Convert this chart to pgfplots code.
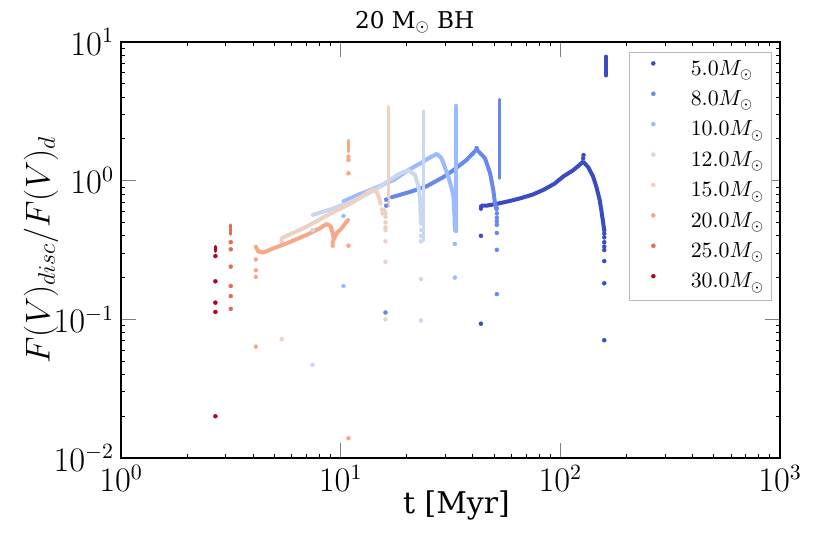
\documentclass[border=0pt]{standalone}
\usepackage{pgfplots}
\pgfplotsset{compat=1.18}
\usepackage{fontspec}
\usepackage{amsmath}
\newfontfamily\djserif{DejaVu Serif}
\definecolor{c5}{HTML}{3B4CC0}
\definecolor{c8}{HTML}{6788EE}
\definecolor{c10}{HTML}{9ABBFF}
\definecolor{c12}{HTML}{C9D7F0}
\definecolor{c15}{HTML}{EDD1C2}
\definecolor{c20}{HTML}{F7A889}
\definecolor{c25}{HTML}{E36C55}
\definecolor{c30}{HTML}{B40426}
\pgfplotsset{
  dots/.style={only marks, mark=*, mark size=1bp, mark options={line width=0.2bp}},
  curve/.style={no marks, line width=2bp, line cap=round, line join=round, forget plot},
  bar/.style={no marks, line width=1.6bp, line cap=round, forget plot},
}
\begin{document}
\begin{tikzpicture}
\useasboundingbox (-60.5bp,-48bp) rectangle (354.5bp,229bp);
\begin{axis}[
  at={(0,0)}, anchor=south west,
  scale only axis, width=329.5bp, height=208bp,
  xmode=log, ymode=log,
  xmin=1, xmax=1000, ymin=0.01, ymax=10,
  xtick={1,10,100,1000}, ytick={0.01,0.1,1,10},
  axis line style={line width=1bp},
  tick align=inside, xtick pos=both, ytick pos=both,
  major tick length=7.5bp, minor tick length=2.2bp,
  major tick style={gray, line width=0.6bp},
  minor tick style={black, line width=0.5bp},
  tick label style={font=\fontsize{16}{19}\selectfont},
  xlabel={\djserif t [Myr]},
  xlabel style={at={(axis description cs:0.509,0)}, anchor=base, yshift=-27.5bp, font=\fontsize{15}{18}\selectfont},
  ylabel={$F(V)_{disc}/F(V)_d$},
  ylabel style={at={(axis description cs:-0.1214,0.5)}, anchor=center, font=\fontsize{16.5}{19}\selectfont},
  legend style={at={(axis description cs:1,1)}, anchor=north east, xshift=-4.15bp, yshift=-4.85bp,
    draw=gray!55, line width=0.5bp, font=\fontsize{10.5}{12}\selectfont,
    inner xsep=1.5bp, inner ysep=1.4bp,
    nodes={text height=7.5bp, text depth=2.5bp, inner ysep=2.6bp}},
  legend cell align=left,
  legend image code/.code={\path (-10.4bp,1bp) (16.5bp,5bp); \draw[#1] plot coordinates {(0bp,3.4bp)};},
]
% 5 Msun
\addplot[dots, c5] coordinates {(43.5,0.40)(43.5,0.093)(127,1.45)(127.5,1.53)(158.5,0.44)(158.5,0.415)(158.5,0.39)(158.5,0.36)(158.5,0.335)(158.5,0.316)(158.5,0.263)(158.5,0.182)(158.5,0.0707)};
\addlegendentry{$5.0M_\odot$}
\addplot[curve, c5] coordinates {(43.5,0.625)(43.6,0.66)(46,0.66)(51.3,0.68)(58,0.71)(65.5,0.745)(75,0.795)(83.6,0.857)(94,0.95)(103,1.07)(114.5,1.19)(121,1.28)(127,1.37)(134,1.25)(141,1.07)(146,0.9)(151,0.726)(154,0.6)(156.8,0.493)(158,0.45)};
\addplot[bar, c5] coordinates {(161.5,5.7)(161.5,7.9)};
% 8 Msun
\addplot[dots, c8] coordinates {(16.1,0.73)(16.1,0.66)(16.0,0.112)(51.4,0.63)(51.4,0.58)(51.4,0.54)(51.4,0.51)(51.4,0.48)(51.4,0.42)(51.4,0.317)(51.4,0.152)(41.6,1.72)};
\addlegendentry{$8.0M_\odot$}
\addplot[curve, c8] coordinates {(17.1,0.76)(20.7,0.83)(24.6,0.91)(29.3,1.06)(32.6,1.19)(37.4,1.41)(41.6,1.68)(45.4,1.45)(47.9,1.13)(49.5,0.86)(50.4,0.69)(51.2,0.62)};
\addplot[bar, c8] coordinates {(52.7,1.04)(52.7,3.86)};
% 10 Msun
\addplot[dots, c10] coordinates {(10.3,0.557)(10.3,0.174)(33.1,0.35)(33.1,0.2)};
\addlegendentry{$10.0M_\odot$}
\addplot[curve, c10] coordinates {(10.3,0.71)(12,0.79)(14,0.87)(17.4,1.01)(20.3,1.19)(23,1.33)(25.5,1.47)(27.4,1.56)(28.8,1.45)(30.9,1.07)(32.2,0.85)(32.6,0.77)(33.0,0.55)(33.1,0.44)};
\addplot[bar, c10] coordinates {(33.5,0.43)(33.5,3.5)};
% 12 Msun
\addplot[dots, c12] coordinates {(7.45,0.44)(7.45,0.047)(23.2,0.44)(23.2,0.40)(23.2,0.365)(23.2,0.195)(23.2,0.098)};
\addlegendentry{$12.0M_\odot$}
\addplot[curve, c12] coordinates {(7.45,0.566)(9,0.62)(11,0.70)(13,0.79)(15,0.9)(17,1.03)(18.7,1.13)(20.3,1.19)(21.8,1.10)(22.6,0.91)(23.0,0.73)(23.2,0.49)};
\addplot[bar, c12] coordinates {(23.8,0.37)(23.8,3.18)};
% 15 Msun
\addplot[dots, c15] coordinates {(5.39,0.072)(15.4,0.62)(15.6,0.60)(15.8,0.61)(15.5,0.58)(16,0.58)(16,0.55)(16,0.50)(16,0.46)(16,0.44)(16,0.365)(16,0.26)(16,0.10)};
\addlegendentry{$15.0M_\odot$}
\addplot[curve, c15] coordinates {(5.39,0.36)(5.39,0.385)(7,0.466)(9,0.58)(11,0.68)(12.2,0.75)(13.2,0.82)(14,0.86)(14.6,0.83)(15.0,0.74)(15.2,0.68)};
\addplot[bar, c15] coordinates {(16.5,0.65)(16.5,3.42)};
% 20 Msun
\addplot[dots, c20] coordinates {(4.11,0.27)(4.11,0.226)(4.11,0.202)(4.11,0.0636)(9.2,0.36)(9.2,0.34)(10.85,0.34)(10.85,0.0139)(10.85,1.13)(10.85,1.41)(10.85,1.49)};
\addlegendentry{$20.0M_\odot$}
\addplot[curve, c20] coordinates {(4.11,0.334)(4.22,0.308)(4.44,0.303)(4.94,0.325)(5.67,0.353)(7.0,0.406)(8.05,0.454)(8.63,0.487)(9.0,0.47)(9.2,0.418)(9.3,0.375)(9.6,0.418)(10.1,0.454)(10.65,0.506)(10.8,0.52)};
\addplot[bar, c20] coordinates {(10.85,1.62)(10.85,1.95)};
% 25 Msun
\addplot[dots, c25] coordinates {(3.16,0.36)(3.16,0.32)(3.16,0.24)(3.16,0.174)(3.16,0.147)(3.16,0.119)};
\addlegendentry{$25.0M_\odot$}
\addplot[bar, c25] coordinates {(3.16,0.41)(3.16,0.48)};
% 30 Msun
\addplot[dots, c30] coordinates {(2.69,0.286)(2.69,0.188)(2.69,0.132)(2.69,0.113)(2.69,0.020)};
\addlegendentry{$30.0M_\odot$}
\addplot[bar, c30] coordinates {(2.69,0.31)(2.69,0.335)};
\end{axis}
\node[anchor=base, inner sep=0pt, font=\fontsize{11.6}{14}\selectfont\djserif] at (146.85bp,214.85bp) {20 M$_\odot$ BH};
\end{tikzpicture}
\end{document}
